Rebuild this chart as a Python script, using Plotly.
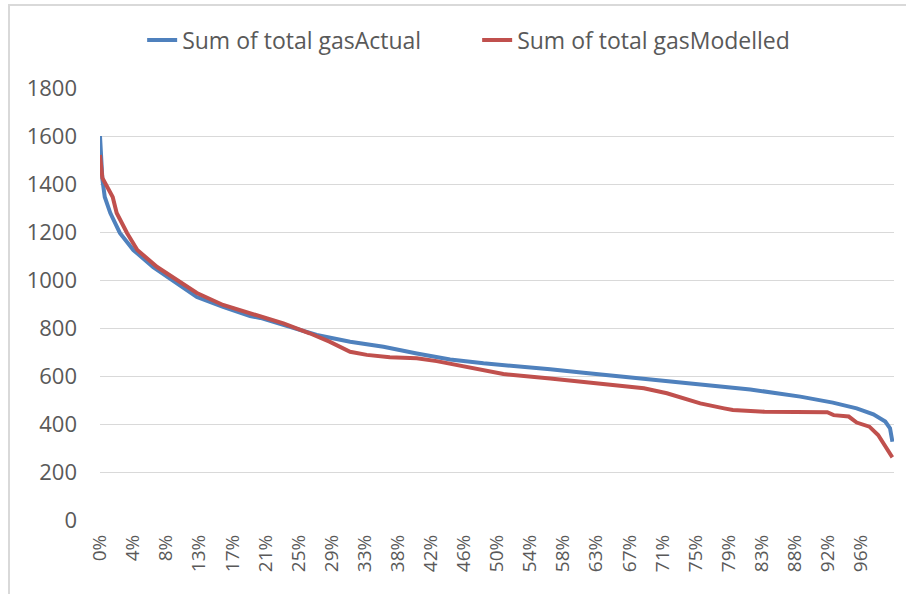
import plotly.graph_objects as go

# duration curve: share of periods (%) vs total gas
pct_actual = [0, 0.3, 0.6, 1.3, 2.5, 4.2, 6.7, 9.7, 12.2, 15.5, 18.9, 20.2, 23.1, 26.4,
              27.3, 31.5, 35.7, 39.9, 44.1, 48.3, 52.5, 56.7, 60.9, 65.1, 69.3, 73.5,
              77.7, 81.9, 88.2, 92.3, 95.3, 97.4, 98.9, 99.5, 99.8]
gas_actual = [1600, 1420, 1346, 1279, 1196, 1125, 1054, 988, 929, 888, 850, 842, 812, 779,
              771, 743, 722, 694, 669, 653, 642, 628, 614, 600, 590, 576,
              562, 544, 514, 489, 465, 440, 410, 382, 326]

pct_modelled = [0, 0.3, 1.6, 2.1, 3.4, 4.7, 7.2, 9.7, 12.2, 15.5, 18.9, 20.2, 23.1, 26.4,
                28.9, 31.5, 33.6, 36.5, 39.9, 42.4, 44.9, 48.3, 50.8, 56.7, 60.9, 65.1,
                68.5, 71.4, 73.5, 75.6, 78.6, 79.7, 83.7, 91.6, 92.4, 94.3, 95.3, 96.9,
                98.0, 98.7, 99.8]
gas_modelled = [1521, 1425, 1346, 1279, 1196, 1125, 1054, 1000, 946, 896, 861, 846, 819, 778,
                743, 701, 688, 678, 674, 662, 646, 628, 608, 590, 576, 562,
                549, 528, 507, 486, 465, 458, 451, 449, 437, 431, 406, 389,
                354, 319, 261]

tick_pos = [k * 100 / 24 for k in range(24)]
tick_text = ['0%', '4%', '8%', '13%', '17%', '21%', '25%', '29%', '33%', '38%', '42%', '46%',
             '50%', '54%', '58%', '63%', '67%', '71%', '75%', '79%', '83%', '88%', '92%', '96%']

FONT = "Open Sans"
GREY = "#595959"
GRID = "#D9D9D9"

fig = go.Figure()
fig.add_trace(go.Scatter(x=pct_actual, y=gas_actual, mode='lines', name='Sum of total gasActual',
                         line=dict(color='#4F81BD', width=4)))
fig.add_trace(go.Scatter(x=pct_modelled, y=gas_modelled, mode='lines', name='Sum of total gasModelled',
                         line=dict(color='#C0504D', width=4)))

# chart area border
fig.add_shape(type='rect', xref='paper', yref='paper',
              x0=(9 - 100) / 794, x1=(912 - 100) / 794,
              y0=(520 - 600) / 432, y1=(520 - 5) / 432,
              line=dict(color=GRID, width=2), layer='below')

fig.update_layout(
    width=906, height=594,
    margin=dict(l=100, r=12, t=88, b=74),
    plot_bgcolor='white', paper_bgcolor='white',
    font=dict(family=FONT, color=GREY),
    showlegend=True,
    legend=dict(orientation='h', x=0.475, xanchor='center', y=1.111, yanchor='middle',
                entrywidth=290, entrywidthmode='pixels',
                font=dict(family=FONT, size=23, color=GREY), bgcolor='rgba(0,0,0,0)'),
    xaxis=dict(range=[0, 100], tickmode='array', tickvals=tick_pos, ticktext=tick_text,
               tickangle=-90, tickfont=dict(size=19, color=GREY), showgrid=False,
               zeroline=False, showline=False, ticks='', ticklabelstandoff=10),
    yaxis=dict(range=[0, 1800], dtick=200, tickfont=dict(size=22, color=GREY),
               showgrid=True, gridcolor=GRID, gridwidth=1, zeroline=False,
               showline=False, ticks='', ticklabelstandoff=22),
)

# page body margin would push the chart 8px off the window edge
fig.write_html("out.html", config={'displayModeBar': False},
               post_script="document.body.style.margin='0';")
